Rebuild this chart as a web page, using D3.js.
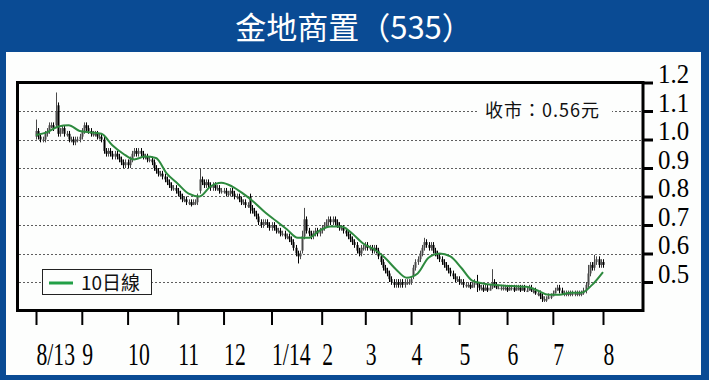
<!DOCTYPE html>
<html>
<head>
<meta charset="utf-8">
<script src="https://cdn.jsdelivr.net/npm/d3@7"></script>
<style>
body { margin: 0; background: #0a4b94; }
svg { display: block; }
</style>
</head>
<body>
<svg id="chart" width="709" height="380"></svg>
<script>
let WIDTH = 709;
let HEIGHT = 380;
const BLUE = '#0a4b94';

const title = '金地商置（535）';
const closeNote = '收市：0.56元';
const legendLabel = '10日線';
const monthLabels = ['8/13', '9', '10', '11', '12', '1/14', '2', '3', '4', '5', '6', '7', '8'];
const yTicks = [0.5, 0.6, 0.7, 0.8, 0.9, 1.0, 1.1, 1.2];

// daily candles, one per trading day (2013-08-02 .. 2014-08-01)
const opens = [
  1.01, 1.03, 1.01, 1.00, 1.00, 1.02, 1.03, 1.05, 1.05, 1.05,
  1.12, 1.02, 1.03, 1.04, 1.02, 1.02, 1.00, 1.00, 0.99, 1.00,
  1.00, 1.01, 1.03, 1.05, 1.04, 1.03, 1.02, 1.02, 1.02, 1.01,
  1.01, 1.00, 0.96, 0.95, 0.96, 0.95, 0.94, 0.95, 0.94, 0.93,
  0.92, 0.91, 0.92, 0.91, 0.93, 0.95, 0.96, 0.95, 0.96, 0.95,
  0.94, 0.94, 0.93, 0.93, 0.92, 0.90, 0.89, 0.88, 0.88, 0.87,
  0.86, 0.85, 0.84, 0.83, 0.83, 0.82, 0.81, 0.80, 0.79, 0.79,
  0.78, 0.78, 0.77, 0.78, 0.78, 0.82, 0.86, 0.85, 0.84, 0.85,
  0.84, 0.83, 0.84, 0.83, 0.83, 0.82, 0.82, 0.82, 0.81, 0.81,
  0.82, 0.81, 0.80, 0.80, 0.79, 0.78, 0.78, 0.77, 0.80, 0.76,
  0.75, 0.74, 0.73, 0.71, 0.70, 0.71, 0.71, 0.70, 0.69, 0.70,
  0.69, 0.68, 0.68, 0.67, 0.67, 0.66, 0.66, 0.65, 0.64, 0.62,
  0.60, 0.59, 0.61, 0.66, 0.72, 0.68, 0.67, 0.66, 0.67, 0.68,
  0.67, 0.68, 0.69, 0.70, 0.71, 0.72, 0.71, 0.72, 0.71, 0.70,
  0.69, 0.69, 0.68, 0.67, 0.66, 0.65, 0.64, 0.63, 0.61, 0.60,
  0.62, 0.62, 0.63, 0.62, 0.62, 0.61, 0.62, 0.61, 0.59, 0.57,
  0.55, 0.54, 0.53, 0.51, 0.50, 0.49, 0.50, 0.49, 0.50, 0.49,
  0.50, 0.50, 0.50, 0.52, 0.55, 0.57, 0.58, 0.60, 0.62, 0.64,
  0.63, 0.62, 0.63, 0.61, 0.60, 0.59, 0.58, 0.57, 0.56, 0.55,
  0.54, 0.53, 0.52, 0.51, 0.51, 0.50, 0.50, 0.49, 0.49, 0.49,
  0.48, 0.49, 0.50, 0.49, 0.48, 0.48, 0.47, 0.48, 0.47, 0.48,
  0.50, 0.49, 0.48, 0.48, 0.48, 0.48, 0.48, 0.47, 0.48, 0.48,
  0.47, 0.48, 0.48, 0.47, 0.48, 0.47, 0.47, 0.48, 0.47, 0.47,
  0.46, 0.46, 0.45, 0.44, 0.44, 0.44, 0.45, 0.45, 0.46, 0.47,
  0.48, 0.47, 0.46, 0.46, 0.46, 0.46, 0.46, 0.46, 0.46, 0.46,
  0.46, 0.46, 0.47, 0.49, 0.53, 0.56, 0.55, 0.57, 0.58, 0.56,
  0.57
];
const highs = [
  1.07, 1.04, 1.02, 1.01, 1.03, 1.04, 1.06, 1.06, 1.06, 1.165,
  1.13, 1.04, 1.05, 1.05, 1.03, 1.03, 1.01, 1.01, 1.01, 1.01,
  1.02, 1.04, 1.06, 1.06, 1.05, 1.04, 1.03, 1.03, 1.03, 1.02,
  1.02, 1.01, 0.97, 0.97, 0.97, 0.96, 0.96, 0.96, 0.95, 0.94,
  0.93, 0.93, 0.93, 0.94, 0.96, 0.97, 0.97, 0.97, 0.97, 0.96,
  0.95, 0.95, 0.94, 0.94, 0.93, 0.91, 0.90, 0.89, 0.89, 0.88,
  0.87, 0.86, 0.85, 0.84, 0.84, 0.83, 0.82, 0.81, 0.80, 0.80,
  0.79, 0.79, 0.79, 0.79, 0.81, 0.90, 0.87, 0.86, 0.86, 0.86,
  0.85, 0.85, 0.85, 0.84, 0.84, 0.83, 0.83, 0.83, 0.82, 0.83,
  0.83, 0.82, 0.81, 0.81, 0.80, 0.79, 0.79, 0.78, 0.81, 0.77,
  0.76, 0.75, 0.74, 0.72, 0.72, 0.72, 0.72, 0.71, 0.71, 0.71,
  0.70, 0.69, 0.69, 0.68, 0.68, 0.67, 0.67, 0.66, 0.65, 0.63,
  0.61, 0.61, 0.68, 0.76, 0.73, 0.69, 0.68, 0.68, 0.69, 0.69,
  0.69, 0.70, 0.71, 0.72, 0.73, 0.73, 0.73, 0.73, 0.72, 0.71,
  0.70, 0.70, 0.69, 0.68, 0.67, 0.66, 0.65, 0.64, 0.62, 0.63,
  0.63, 0.64, 0.64, 0.63, 0.63, 0.63, 0.63, 0.62, 0.60, 0.58,
  0.56, 0.55, 0.54, 0.52, 0.51, 0.51, 0.51, 0.51, 0.51, 0.51,
  0.51, 0.51, 0.52, 0.56, 0.58, 0.59, 0.61, 0.63, 0.655, 0.65,
  0.64, 0.64, 0.64, 0.62, 0.61, 0.60, 0.59, 0.58, 0.57, 0.56,
  0.55, 0.54, 0.53, 0.52, 0.52, 0.51, 0.51, 0.50, 0.50, 0.50,
  0.50, 0.51, 0.525, 0.50, 0.49, 0.49, 0.49, 0.49, 0.49, 0.545,
  0.51, 0.50, 0.49, 0.49, 0.49, 0.49, 0.49, 0.49, 0.49, 0.49,
  0.49, 0.49, 0.49, 0.49, 0.49, 0.48, 0.49, 0.49, 0.48, 0.48,
  0.47, 0.47, 0.46, 0.45, 0.45, 0.46, 0.46, 0.47, 0.48, 0.49,
  0.49, 0.48, 0.47, 0.47, 0.47, 0.47, 0.47, 0.47, 0.47, 0.47,
  0.47, 0.48, 0.50, 0.56, 0.57, 0.57, 0.595, 0.59, 0.59, 0.58,
  0.58
];
const lows = [
  1.00, 1.00, 0.99, 0.99, 0.99, 1.01, 1.02, 1.04, 1.03, 1.04,
  1.01, 1.01, 1.02, 1.01, 1.01, 0.99, 0.99, 0.98, 0.98, 0.99,
  0.99, 1.00, 1.02, 1.03, 1.02, 1.01, 1.01, 1.01, 1.00, 1.00,
  0.99, 0.95, 0.94, 0.94, 0.94, 0.93, 0.93, 0.93, 0.92, 0.91,
  0.90, 0.90, 0.90, 0.90, 0.92, 0.94, 0.94, 0.94, 0.94, 0.93,
  0.93, 0.92, 0.92, 0.91, 0.89, 0.88, 0.87, 0.87, 0.86, 0.85,
  0.84, 0.83, 0.82, 0.82, 0.81, 0.80, 0.79, 0.78, 0.78, 0.77,
  0.77, 0.765, 0.77, 0.77, 0.77, 0.81, 0.84, 0.83, 0.83, 0.83,
  0.82, 0.82, 0.82, 0.82, 0.81, 0.81, 0.81, 0.80, 0.80, 0.80,
  0.80, 0.79, 0.79, 0.78, 0.77, 0.77, 0.76, 0.76, 0.74, 0.74,
  0.73, 0.72, 0.70, 0.69, 0.69, 0.70, 0.69, 0.68, 0.68, 0.68,
  0.67, 0.67, 0.66, 0.66, 0.65, 0.65, 0.64, 0.63, 0.61, 0.59,
  0.565, 0.58, 0.60, 0.65, 0.67, 0.66, 0.65, 0.65, 0.66, 0.66,
  0.66, 0.67, 0.68, 0.69, 0.70, 0.70, 0.70, 0.70, 0.69, 0.68,
  0.68, 0.67, 0.66, 0.65, 0.64, 0.63, 0.62, 0.60, 0.59, 0.59,
  0.61, 0.61, 0.61, 0.61, 0.60, 0.60, 0.60, 0.58, 0.56, 0.54,
  0.53, 0.52, 0.50, 0.49, 0.48, 0.48, 0.48, 0.48, 0.48, 0.48,
  0.49, 0.49, 0.49, 0.51, 0.54, 0.56, 0.57, 0.59, 0.61, 0.62,
  0.61, 0.61, 0.60, 0.59, 0.58, 0.57, 0.56, 0.55, 0.54, 0.53,
  0.52, 0.51, 0.50, 0.50, 0.49, 0.49, 0.48, 0.48, 0.48, 0.475,
  0.48, 0.48, 0.465, 0.47, 0.47, 0.465, 0.47, 0.465, 0.47, 0.475,
  0.48, 0.475, 0.475, 0.47, 0.47, 0.47, 0.465, 0.47, 0.47, 0.465,
  0.47, 0.47, 0.465, 0.47, 0.465, 0.465, 0.47, 0.465, 0.46, 0.455,
  0.45, 0.44, 0.43, 0.43, 0.43, 0.44, 0.44, 0.45, 0.46, 0.47,
  0.46, 0.455, 0.45, 0.45, 0.45, 0.45, 0.45, 0.45, 0.45, 0.45,
  0.45, 0.455, 0.46, 0.48, 0.52, 0.54, 0.54, 0.56, 0.55, 0.55,
  0.55
];
const closes = [
  1.03, 1.01, 1.00, 1.00, 1.02, 1.03, 1.05, 1.05, 1.04, 1.10,
  1.02, 1.03, 1.04, 1.02, 1.02, 1.00, 1.00, 0.99, 1.00, 1.00,
  1.01, 1.03, 1.05, 1.04, 1.03, 1.02, 1.02, 1.02, 1.01, 1.01,
  1.00, 0.96, 0.95, 0.96, 0.95, 0.94, 0.95, 0.94, 0.93, 0.92,
  0.91, 0.92, 0.91, 0.93, 0.95, 0.96, 0.95, 0.96, 0.95, 0.94,
  0.94, 0.93, 0.93, 0.92, 0.90, 0.89, 0.88, 0.88, 0.87, 0.86,
  0.85, 0.84, 0.83, 0.83, 0.82, 0.81, 0.80, 0.79, 0.79, 0.78,
  0.78, 0.77, 0.78, 0.78, 0.80, 0.86, 0.85, 0.84, 0.85, 0.84,
  0.83, 0.84, 0.83, 0.83, 0.82, 0.82, 0.82, 0.81, 0.81, 0.82,
  0.81, 0.80, 0.80, 0.79, 0.78, 0.78, 0.77, 0.77, 0.76, 0.75,
  0.74, 0.73, 0.71, 0.70, 0.71, 0.71, 0.70, 0.69, 0.70, 0.69,
  0.68, 0.68, 0.67, 0.67, 0.66, 0.66, 0.65, 0.64, 0.62, 0.60,
  0.59, 0.60, 0.66, 0.72, 0.68, 0.67, 0.66, 0.67, 0.68, 0.67,
  0.68, 0.69, 0.70, 0.71, 0.72, 0.71, 0.72, 0.71, 0.70, 0.69,
  0.69, 0.68, 0.67, 0.66, 0.65, 0.64, 0.63, 0.61, 0.60, 0.62,
  0.62, 0.63, 0.62, 0.62, 0.61, 0.62, 0.61, 0.59, 0.57, 0.55,
  0.54, 0.53, 0.51, 0.50, 0.49, 0.50, 0.49, 0.50, 0.49, 0.50,
  0.50, 0.50, 0.51, 0.55, 0.57, 0.58, 0.60, 0.62, 0.64, 0.63,
  0.62, 0.63, 0.61, 0.60, 0.59, 0.58, 0.57, 0.56, 0.55, 0.54,
  0.53, 0.52, 0.51, 0.51, 0.50, 0.50, 0.49, 0.49, 0.49, 0.48,
  0.49, 0.50, 0.49, 0.48, 0.48, 0.47, 0.48, 0.47, 0.48, 0.50,
  0.49, 0.48, 0.48, 0.48, 0.48, 0.48, 0.47, 0.48, 0.48, 0.47,
  0.48, 0.48, 0.47, 0.48, 0.47, 0.47, 0.48, 0.47, 0.47, 0.46,
  0.46, 0.45, 0.44, 0.44, 0.44, 0.45, 0.45, 0.46, 0.47, 0.48,
  0.47, 0.46, 0.46, 0.46, 0.46, 0.46, 0.46, 0.46, 0.46, 0.46,
  0.46, 0.47, 0.49, 0.53, 0.56, 0.55, 0.57, 0.58, 0.56, 0.57,
  0.56
];
// 10日線, read every 5th trading day
const ma10 = [
  1.016, 1.025, 1.045, 1.05, 1.03, 1.025, 1.02, 0.98, 0.95, 0.93,
  0.94, 0.935, 0.88, 0.845, 0.81, 0.80, 0.835, 0.848, 0.835, 0.81,
  0.78, 0.745, 0.715, 0.685, 0.655, 0.655, 0.68, 0.695, 0.695, 0.67,
  0.635, 0.615, 0.585, 0.545, 0.515, 0.53, 0.585, 0.60, 0.59, 0.55,
  0.505, 0.495, 0.49, 0.487, 0.485, 0.483, 0.47, 0.455, 0.455, 0.462,
  0.462, 0.49, 0.535
];
const maStep = 5;

// trading days = weekdays between the first and last candle
let days = d3.timeDay.range(new Date(2013, 7, 2), new Date(2014, 7, 2))
  .filter(d => d.getDay() % 6 !== 0);
let monthStarts = days.map((d, i) => i)
  .filter(i => i === 0 || days[i].getMonth() !== days[i - 1].getMonth());

let svg = d3.select('#chart');

svg.append('rect').attr('width', WIDTH).attr('height', HEIGHT).attr('fill', BLUE);
svg.append('rect')
  .attr('x', 6).attr('y', 52).attr('width', 695).attr('height', 323)
  .attr('fill', '#fdfefd');

svg.append('text')
  .attr('x', 354).attr('y', 39)
  .attr('text-anchor', 'middle')
  .attr('fill', '#fff')
  .style('font-family', '"Noto Sans CJK TC", "Noto Sans CJK SC", sans-serif')
  .style('font-size', '31px')
  .text(title);

let xScale = d3.scaleLinear().domain([0, closes.length - 1]).range([36, 603]);
let yScale = d3.scaleLinear().domain([0.4, 1.2]).range([310.5, 82.5]);

//グリッド
svg.append('g')
  .selectAll('line')
  .data(yTicks.filter(v => v < 1.2))
  .enter().append('line')
    .attr('x1', 19).attr('x2', 641)
    .attr('y1', d => Math.round(yScale(d)) + 0.5)
    .attr('y2', d => Math.round(yScale(d)) + 0.5)
    .attr('stroke', '#5e5e5e')
    .attr('stroke-width', 1)
    .attr('stroke-dasharray', '2,2');

// close note sits on the 1.1 line
svg.append('rect')
  .attr('x', 478).attr('y', 101).attr('width', 134).attr('height', 21)
  .attr('fill', '#fdfefd');
svg.append('text')
  .attr('x', 485).attr('y', 117)
  .style('font-family', '"Noto Sans CJK TC", sans-serif')
  .style('font-size', '18px')
  .style('letter-spacing', '1px')
  .attr('fill', '#111')
  .text(closeNote);

// candles
let candles = svg.append('g')
  .selectAll('g')
  .data(closes)
  .enter().append('g');

candles.append('line')
  .attr('x1', (d, i) => Math.round(xScale(i)) + 0.5)
  .attr('x2', (d, i) => Math.round(xScale(i)) + 0.5)
  .attr('y1', (d, i) => yScale(highs[i]))
  .attr('y2', (d, i) => yScale(lows[i]))
  .attr('stroke', (d, i) => d >= opens[i] ? '#4a4a4a' : '#000')
  .attr('stroke-width', 1);

candles.append('rect')
  .attr('x', (d, i) => Math.round(xScale(i)) - 0.5)
  .attr('width', 2)
  .attr('y', (d, i) => yScale(Math.max(d, opens[i])))
  .attr('height', (d, i) => Math.max(1.5, Math.abs(yScale(d) - yScale(opens[i]))))
  .attr('fill', (d, i) => d >= opens[i] ? '#4a4a4a' : '#000');

// 10日線
let maLine = d3.line()
  .x((d, i) => xScale(i * maStep))
  .y(d => yScale(d))
  .curve(d3.curveMonotoneX);

svg.append('path')
  .datum(ma10)
  .attr('d', maLine)
  .attr('fill', 'none')
  .attr('stroke', '#2d8a3e')
  .attr('stroke-width', 2);

// legend
svg.append('rect')
  .attr('x', 42.5).attr('y', 269.5).attr('width', 109).attr('height', 25)
  .attr('fill', '#fdfefd').attr('stroke', '#222').attr('stroke-width', 1);
svg.append('line')
  .attr('x1', 49).attr('x2', 73).attr('y1', 283).attr('y2', 283)
  .attr('stroke', '#22a046').attr('stroke-width', 3);
svg.append('text')
  .attr('x', 81).attr('y', 290)
  .style('font-family', '"Noto Sans CJK TC", sans-serif')
  .style('font-size', '19px')
  .attr('fill', '#111')
  .text(legendLabel);

// frame
svg.append('rect')
  .attr('x', 17.5).attr('y', 82.5).attr('width', 625.5).attr('height', 228)
  .attr('fill', 'none').attr('stroke', '#000').attr('stroke-width', 3);

// right axis
let rightAxis = d3.axisRight(yScale)
  .tickValues(yTicks)
  .tickSize(10)
  .tickSizeOuter(0)
  .tickFormat(d3.format('.1f'));
let ry = svg.append('g')
  .attr('transform', 'translate(643,0)')
  .call(rightAxis);
ry.select('.domain').remove();
ry.selectAll('.tick line').attr('stroke', '#000').attr('stroke-width', 3);
ry.selectAll('.tick text')
  .attr('x', 0).attr('dy', 0)
  .attr('transform', 'translate(15,0) scale(0.92,1)')
  .attr('text-anchor', 'start')
  .attr('fill', '#000')
  .style('font-family', '"Liberation Serif", "Times New Roman", serif')
  .style('font-size', '27px');

// bottom axis
let bottomAxis = d3.axisBottom(xScale)
  .tickValues(monthStarts)
  .tickSize(13)
  .tickSizeOuter(0)
  .tickFormat((d, i) => monthLabels[i]);
let bx = svg.append('g')
  .attr('transform', 'translate(0,312)')
  .call(bottomAxis);
bx.select('.domain').remove();
bx.selectAll('.tick line').attr('stroke', '#000').attr('stroke-width', 2);
bx.selectAll('.tick text')
  .attr('y', 0).attr('dy', 0)
  .attr('transform', 'translate(0,53) scale(0.7,1)')
  .attr('text-anchor', 'start')
  .attr('fill', '#000')
  .style('font-family', '"Liberation Serif", "Times New Roman", serif')
  .style('font-size', '31px');
</script>
</body>
</html>
